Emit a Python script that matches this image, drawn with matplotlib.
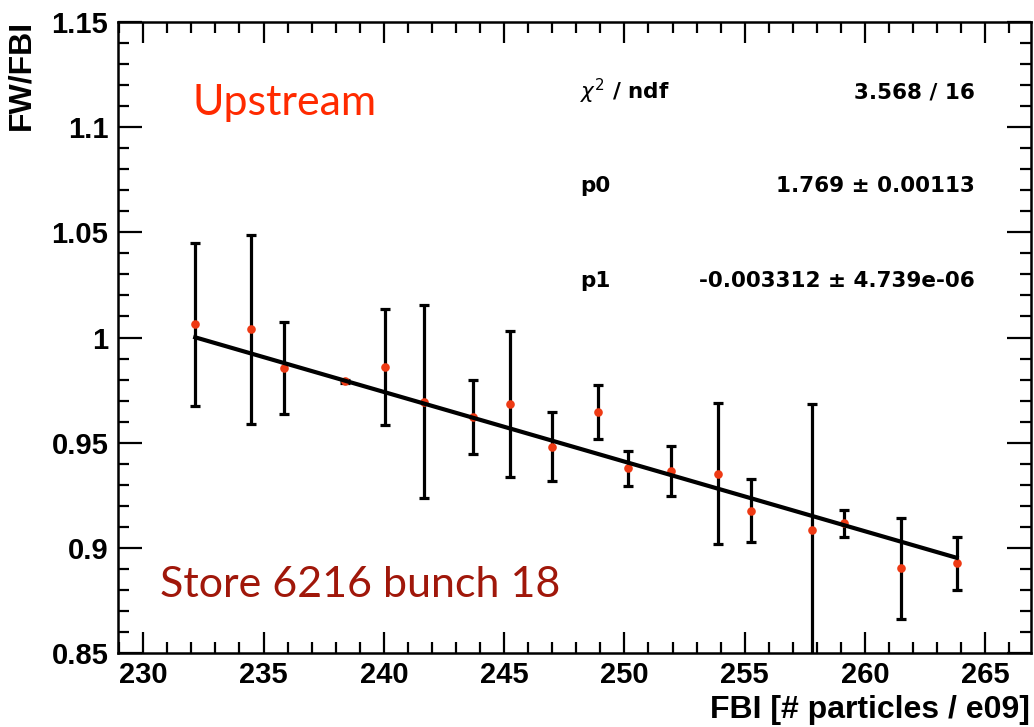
import numpy as np
import matplotlib
matplotlib.use('Agg')
import matplotlib.pyplot as plt
from matplotlib.ticker import MultipleLocator, FuncFormatter

# FBI intensity (e09 particles) and FW/FBI ratio per bunch measurement
fbi = [232.16, 234.49, 235.83, 238.37, 240.03, 241.66, 243.71, 245.25, 246.98,
       248.92, 250.15, 251.94, 253.90, 255.28, 257.81, 259.11, 261.49, 263.81]
ratio = [1.0063, 1.0039, 0.9855, 0.9793, 0.9861, 0.9695, 0.9624, 0.9683, 0.9480,
         0.9646, 0.9378, 0.9365, 0.9353, 0.9177, 0.9086, 0.9117, 0.8903, 0.8927]
ratio_err = [0.0388, 0.0450, 0.0218, 0.0007, 0.0275, 0.0460, 0.0176, 0.0347, 0.0164,
             0.0130, 0.0082, 0.0117, 0.0334, 0.0149, 0.0600, 0.0064, 0.0240, 0.0126]

# linear fit result  y = p0 + p1 * x
P0 = 1.769
P0_ERR = 0.00113
P1 = -0.003312
P1_ERR = 4.739e-06
CHI2 = 3.568
NDF = 16

X_RANGE = (228.95, 266.9)
Y_RANGE = (0.85, 1.15)

W, H = 1034, 727
plt.rcParams['font.family'] = ['Liberation Sans', 'DejaVu Sans']
plt.rcParams['mathtext.fontset'] = 'dejavusans'

fig = plt.figure(figsize=(W / 100, H / 100), dpi=100)
ax = fig.add_axes([118 / W, 1 - 653 / H, (1031 - 118) / W, (653 - 22) / H])

ax.errorbar(fbi, ratio, yerr=ratio_err, fmt='none', ecolor='black',
            elinewidth=2.3, capsize=3.5, capthick=2.3, zorder=2)
ax.plot(fbi, ratio, 'o', color='#ee3a14', ms=6.2, mec='none', zorder=3)

xf = np.array([fbi[0], fbi[-1]])
ax.plot(xf, P0 + P1 * xf, color='black', lw=3.0, zorder=4)

ax.set_xlim(*X_RANGE)
ax.set_ylim(*Y_RANGE)


def ytick_fmt(v, _):
    s = f'{v:.2f}'.rstrip('0').rstrip('.')
    return s


ax.xaxis.set_major_locator(MultipleLocator(5))
ax.xaxis.set_minor_locator(MultipleLocator(1))
ax.yaxis.set_major_locator(MultipleLocator(0.05))
ax.yaxis.set_minor_locator(MultipleLocator(0.01))
ax.yaxis.set_major_formatter(FuncFormatter(ytick_fmt))

ax.tick_params(axis='both', which='both', direction='in', top=True, right=True,
               width=1.6, labelsize=21)
ax.tick_params(axis='x', which='major', length=15, pad=6)
ax.tick_params(axis='x', which='minor', length=8)
ax.tick_params(axis='y', which='major', length=17, pad=7)
ax.tick_params(axis='y', which='minor', length=8)
for lab in ax.get_xticklabels() + ax.get_yticklabels():
    lab.set_fontweight('bold')
for sp in ax.spines.values():
    sp.set_linewidth(1.8)

fig.text(1030 / W, 1 - 718 / H, 'FBI [# particles / e09]', ha='right', va='baseline',
         fontsize=23, fontweight='bold')
fig.text(36 / W, 1 - 20 / H, 'FW/FBI', ha='right', va='top', rotation=90,
         fontsize=23, fontweight='bold')

# fit statistics box (no border)
stats = [(r'$\chi^{2}$ / ndf', f'{CHI2:.3f} / {NDF}', 99),
         ('p0', f'{P0:.3f} \u00b1 {P0_ERR:.5f}', 192),
         ('p1', f'{P1:.6f} \u00b1 {P1_ERR:.3e}', 287)]
for name, val, yb in stats:
    fig.text(580 / W, 1 - yb / H, name, ha='left', va='baseline', fontsize=15.5,
             family='DejaVu Sans', fontweight='bold')
    fig.text(975 / W, 1 - yb / H, val, ha='right', va='baseline', fontsize=15.5,
             family='DejaVu Sans', fontweight='bold')

fig.text(193 / W, 1 - 115 / H, 'Upstream', ha='left', va='baseline',
         fontsize=31, color='#ff2a00', family='Lato')
fig.text(160 / W, 1 - 597 / H, 'Store 6216 bunch 18', ha='left', va='baseline',
         fontsize=31, color='#a0170a', family='Lato')

fig.savefig('out.png', dpi=100)
